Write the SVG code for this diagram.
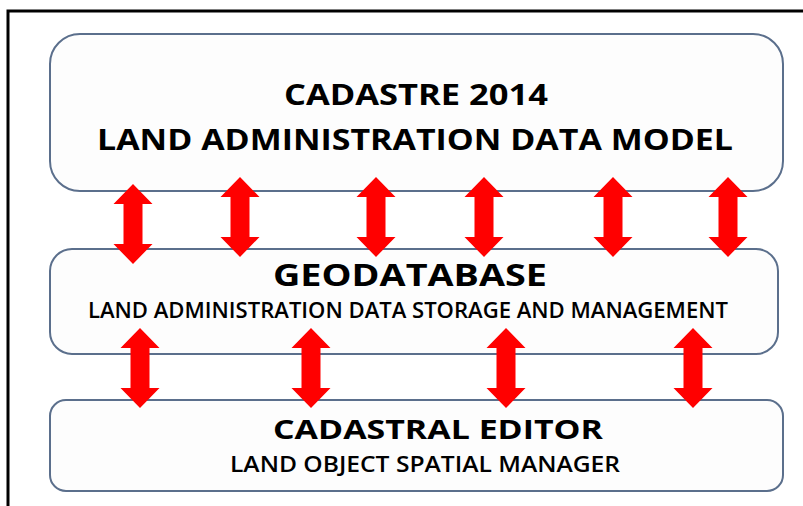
<svg xmlns="http://www.w3.org/2000/svg" xmlns:xlink="http://www.w3.org/1999/xlink" width="803" height="506" viewBox="0 0 803 506">
  <style>
    .layer { fill: #fdfdfd; stroke: #5b6f8c; stroke-width: 2; }
    .title { font-family: "Open Sans", "Liberation Sans", sans-serif; font-weight: bold; fill: #000; }
    .sub { font-family: "Open Sans", "Liberation Sans", sans-serif; font-weight: 600; fill: #000; }
    .link { fill: #ff0000; }
  </style>
  <defs>
    <!-- two-headed vertical arrow, tip at origin, 80 long -->
    <path id="dblArrow" d="M0,0 L19.5,20 L9.5,20 L9.5,60 L19.5,60 L0,80 L-19.5,60 L-9.5,60 L-9.5,20 L-19.5,20 Z"/>
  </defs>

  <rect x="0" y="0" width="803" height="506" fill="#ffffff"/>
  <!-- outer frame -->
  <path d="M8,506 L8,11 L803,11" fill="none" stroke="#000" stroke-width="3"/>

  <g id="cadastre2014">
    <rect class="layer" x="50" y="34" width="733" height="157" rx="30"/>
    <text class="title" x="416" y="105" font-size="29" text-anchor="middle" textLength="264" lengthAdjust="spacingAndGlyphs">CADASTRE 2014</text>
    <text class="title" x="415" y="150" font-size="29" text-anchor="middle" textLength="636" lengthAdjust="spacingAndGlyphs">LAND ADMINISTRATION DATA MODEL</text>
  </g>

  <g id="geodatabase">
    <rect class="layer" x="50" y="249" width="728" height="105" rx="22"/>
    <text class="title" x="410" y="286" font-size="31" text-anchor="middle" textLength="274" lengthAdjust="spacingAndGlyphs">GEODATABASE</text>
    <text class="sub" x="408" y="318" font-size="21" text-anchor="middle" textLength="640" lengthAdjust="spacingAndGlyphs">LAND ADMINISTRATION DATA STORAGE AND MANAGEMENT</text>
  </g>

  <g id="cadastralEditor">
    <rect class="layer" x="50" y="400" width="733" height="91" rx="16"/>
    <text class="title" x="438" y="439" font-size="27" text-anchor="middle" textLength="330" lengthAdjust="spacingAndGlyphs">CADASTRAL EDITOR</text>
    <text class="sub" x="425" y="472" font-size="21" text-anchor="middle" textLength="390" lengthAdjust="spacingAndGlyphs">LAND OBJECT SPATIAL MANAGER</text>
  </g>

  <g id="connectors" class="link">
    <use xlink:href="#dblArrow" x="133" y="184"/>
    <use xlink:href="#dblArrow" x="240" y="177"/>
    <use xlink:href="#dblArrow" x="376" y="177"/>
    <use xlink:href="#dblArrow" x="484" y="177"/>
    <use xlink:href="#dblArrow" x="613" y="177"/>
    <use xlink:href="#dblArrow" x="728" y="177"/>
    <use xlink:href="#dblArrow" x="140" y="328"/>
    <use xlink:href="#dblArrow" x="311" y="328"/>
    <use xlink:href="#dblArrow" x="506" y="328"/>
    <use xlink:href="#dblArrow" x="693" y="328"/>
  </g>
</svg>
